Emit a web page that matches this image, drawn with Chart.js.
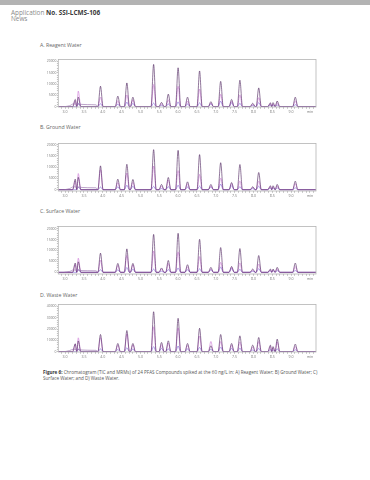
<!DOCTYPE html>
<html>
<head>
<meta charset="utf-8">
<script src="https://cdn.jsdelivr.net/npm/chart.js@4.4.1/dist/chart.umd.min.js"></script>
<style>
  body { margin: 0; width: 370px; height: 480px; background: #fff; position: relative; overflow: hidden; font-family: "Open Sans", "Noto Sans", sans-serif; }
  .bar { position: absolute; left: 0; top: 0; width: 370px; height: 5px; background: #b3b3b3; }
  .hdr { position: absolute; left: 11px; font-size: 6.4px; line-height: 7px; color: #8a8a8a; white-space: nowrap; }
  .hdr b { color: #3a3a3a; }
  .ttl { position: absolute; left: 40px; font-size: 5.2px; line-height: 6px; color: #666; white-space: nowrap; }
  .cap { position: absolute; left: 43px; top: 368.5px; font-size: 4.6px; line-height: 6px; color: #555; white-space: nowrap; }
  .cap b { color: #333; }
  canvas { position: absolute; left: 30px; }
</style>
</head>
<body>
<div class="bar"></div>
<div class="hdr" style="top:8.5px">Application <b>No. SSI-LCMS-106</b></div>
<div class="hdr" style="top:15px">News</div>

<div class="ttl" style="top:42px">A. Reagent Water</div>
<canvas id="chartA" width="300" height="60" style="top:57px"></canvas>

<div class="ttl" style="top:124px">B. Ground Water</div>
<canvas id="chartB" width="300" height="60" style="top:141px"></canvas>

<div class="ttl" style="top:207.5px">C. Surface Water</div>
<canvas id="chartC" width="300" height="60" style="top:224px"></canvas>

<div class="ttl" style="top:292px">D. Waste Water</div>
<canvas id="chartD" width="300" height="60" style="top:302px"></canvas>

<div class="cap"><b>Figure 6:</b> Chromatogram (TIC and MRMs) of 24 PFAS Compounds spiked at the 60 ng/L in: A) Reagent Water; B) Ground Water; C)<br>Surface Water; and D) Waste Water.</div>

<script>
// retention times (min) of the peaks, same compounds in every matrix
const peakTimes = [3.27, 3.35, 3.94, 4.40, 4.64, 4.80, 5.35, 5.56, 5.74, 6.00, 6.25, 6.57, 6.87, 7.13, 7.42, 7.64, 7.98, 8.14, 8.45, 8.52, 8.63, 9.11];

// early broad hump before the first peaks
const humpTimes = [2.98, 3.12, 3.22, 3.45, 3.60, 3.82, 3.87];

// A. Reagent Water
const ticA = [3200, 4200, 9050, 4670, 10500, 4200, 18700, 1900, 5550, 17200, 4200, 15800, 2200, 11200, 3200, 11700, 1500, 8300, 1700, 1800, 2500, 4200];
const mrmA = [2600, 6900, 4200, 2600, 5200, 3000, 9800, 1200, 3000, 9000, 2500, 7800, 1600, 5500, 2400, 5200, 900, 4000, 1400, 1200, 1600, 2600];
const lowA = [0, 1500, 1300, 1100, 2000, 1500, 1600, 600, 1200, 2100, 1200, 1700, 1300, 2400, 1700, 1500, 500, 1800, 800, 900, 700, 900];
const humpA = [0, 400, 1200, 1000, 900, 800, 0];

// B. Ground Water
const ticB = [4700, 5500, 10600, 4700, 11300, 4550, 17800, 2350, 5440, 17500, 3500, 15600, 2350, 12000, 3200, 11200, 1300, 7650, 1760, 1760, 2350, 3800];
const mrmB = [3800, 7200, 9000, 3200, 7400, 3300, 10500, 1500, 4300, 8500, 2600, 6800, 1700, 5200, 2700, 3900, 1000, 3900, 1400, 1300, 1700, 2700];
const lowB = [0, 1200, 1200, 1300, 2000, 1600, 1500, 500, 1400, 2000, 1200, 1600, 1200, 2500, 1800, 1400, 500, 1600, 800, 900, 800, 800];
const humpB = [0, 500, 1300, 1000, 900, 850, 0];

// C. Surface Water
const ticC = [4240, 4800, 8800, 4100, 10750, 4100, 17400, 2000, 5450, 17900, 3500, 15150, 2270, 11360, 2700, 10900, 1500, 7700, 1500, 1500, 2270, 4240];
const mrmC = [3600, 6500, 5600, 3100, 7700, 3400, 9700, 1400, 4000, 9400, 2500, 7200, 1500, 4600, 2300, 4300, 900, 3800, 1200, 1100, 1600, 2600];
const lowC = [0, 1300, 1200, 1200, 2200, 1500, 1500, 500, 1300, 2000, 1200, 1600, 1200, 2500, 1700, 1400, 500, 1700, 800, 900, 800, 800];
const humpC = [0, 400, 1100, 800, 750, 700, 0];

// D. Waste Water
const ticD = [7000, 9500, 15200, 7300, 18700, 7300, 35300, 8200, 9600, 29500, 7300, 20700, 5200, 15200, 7300, 14000, 5800, 12550, 5800, 4500, 11100, 6700];
const mrmD = [6500, 12260, 12500, 5600, 15500, 6000, 22000, 6100, 7500, 21000, 5400, 14000, 9050, 9000, 5600, 8500, 4200, 9000, 4600, 3600, 8500, 4600];
const lowD = [0, 2500, 2500, 2000, 3500, 2500, 4500, 3000, 2500, 5000, 2500, 3800, 2200, 4200, 3000, 3200, 1500, 3000, 2000, 1800, 2500, 1800];
const humpD = [0, 1000, 2200, 1500, 1300, 1200, 0];

// tick labels
const xLabelTimes = [3.0, 3.5, 4.0, 4.5, 5.0, 5.5, 6.0, 6.5, 7.0, 7.5, 8.0, 8.5, 9.0, 9.5];
const xLabelText = ['3.0', '3.5', '4.0', '4.5', '5.0', '5.5', '6.0', '6.5', '7.0', '7.5', '8.0', '8.5', '9.0', 'min'];
const yLabels20k = [0, 5000, 10000, 15000, 20000];
const yLabels40k = [0, 10000, 20000, 30000, 40000];

const X_MIN = 2.82, X_MAX = 9.66;
const HALF_WIDTH = 0.068;

// peak list -> points (baseline, apex, baseline)
function peakPoints(times, heights) {
  const pts = [{ x: X_MIN, y: 0 }];
  for (let i = 0; i < times.length; i++) {
    if (!heights[i]) continue;
    const t = times[i];
    let left = t - HALF_WIDTH, right = t + HALF_WIDTH;
    if (i > 0) left = Math.max(left, (times[i - 1] + t) / 2);
    if (i < times.length - 1) right = Math.min(right, (times[i + 1] + t) / 2);
    if (pts[pts.length - 1].x < left) pts.push({ x: left, y: 0 });
    pts.push({ x: t, y: heights[i] });
    pts.push({ x: right, y: 0 });
  }
  pts.push({ x: X_MAX, y: 0 });
  return pts;
}

function line(data, color) {
  return {
    data: data,
    borderColor: color,
    borderWidth: 0.7,
    pointRadius: 0,
    fill: false,
    cubicInterpolationMode: 'monotone'
  };
}

const boxPlugin = {
  id: 'box',
  afterDraw(chart) {
    const a = chart.chartArea, ctx = chart.ctx;
    ctx.save();
    ctx.strokeStyle = '#b4b4b4';
    ctx.lineWidth = 0.8;
    ctx.strokeRect(a.left, a.top, a.right - a.left, a.bottom - a.top);
    ctx.restore();
  }
};

function makePanel(id, tic, mrm, low, hump, yMin, yMax, yLabels, yMinorStep) {
  new Chart(document.getElementById(id), {
    type: 'line',
    data: {
      datasets: [
        line(humpTimes.map((t, i) => ({ x: t, y: hump[i] })), 'rgba(150,110,170,0.9)'),
        line(peakPoints(peakTimes, tic), 'rgba(80,38,96,0.9)'),
        line(peakPoints(peakTimes, mrm), 'rgba(205,125,215,0.9)'),
        line(peakPoints(peakTimes, low), 'rgba(120,100,215,0.85)')
      ]
    },
    options: {
      responsive: false,
      animation: false,
      devicePixelRatio: 1,
      layout: { padding: { top: 2, right: 14, bottom: 0, left: 0 } },
      plugins: { legend: { display: false }, tooltip: { enabled: false } },
      scales: {
        x: {
          type: 'linear',
          min: X_MIN,
          max: X_MAX,
          afterFit: s => { s.height = 10; },
          afterBuildTicks: s => {
            const ticks = [];
            for (let k = 29; k <= 96; k++) ticks.push({ value: k / 10 });
            s.ticks = ticks;
          },
          grid: { drawOnChartArea: false, tickLength: 1.8, color: '#9a9a9a', lineWidth: 0.6 },
          border: { display: false },
          ticks: {
            autoSkip: false,
            maxRotation: 0,
            padding: 0.8,
            color: '#777',
            font: { size: 3.6, family: 'Open Sans' },
            callback: v => {
              const i = xLabelTimes.findIndex(t => Math.abs(t - v) < 0.001);
              return i >= 0 ? xLabelText[i] : '';
            }
          }
        },
        y: {
          min: yMin,
          max: yMax,
          afterFit: s => { s.width = 28.3; },
          afterBuildTicks: s => {
            const ticks = [];
            for (let v = 0; v <= yMax; v += yMinorStep) ticks.push({ value: v });
            s.ticks = ticks;
          },
          grid: { drawOnChartArea: false, tickLength: 1.4, color: '#9a9a9a', lineWidth: 0.6 },
          border: { display: false },
          ticks: {
            autoSkip: false,
            padding: 0.4,
            color: '#777',
            font: { size: 3.4, family: 'Open Sans' },
            callback: v => yLabels.includes(v) ? String(v) : ''
          }
        }
      }
    },
    plugins: [boxPlugin]
  });
}

makePanel('chartA', ticA, mrmA, lowA, humpA, -150, 20900, yLabels20k, 1000);
makePanel('chartB', ticB, mrmB, lowB, humpB, -570, 20570, yLabels20k, 1000);
makePanel('chartC', ticC, mrmC, lowC, humpC, -770, 21050, yLabels20k, 1000);
makePanel('chartD', ticD, mrmD, lowD, humpD, -260, 41750, yLabels40k, 2000);
</script>
</body>
</html>
